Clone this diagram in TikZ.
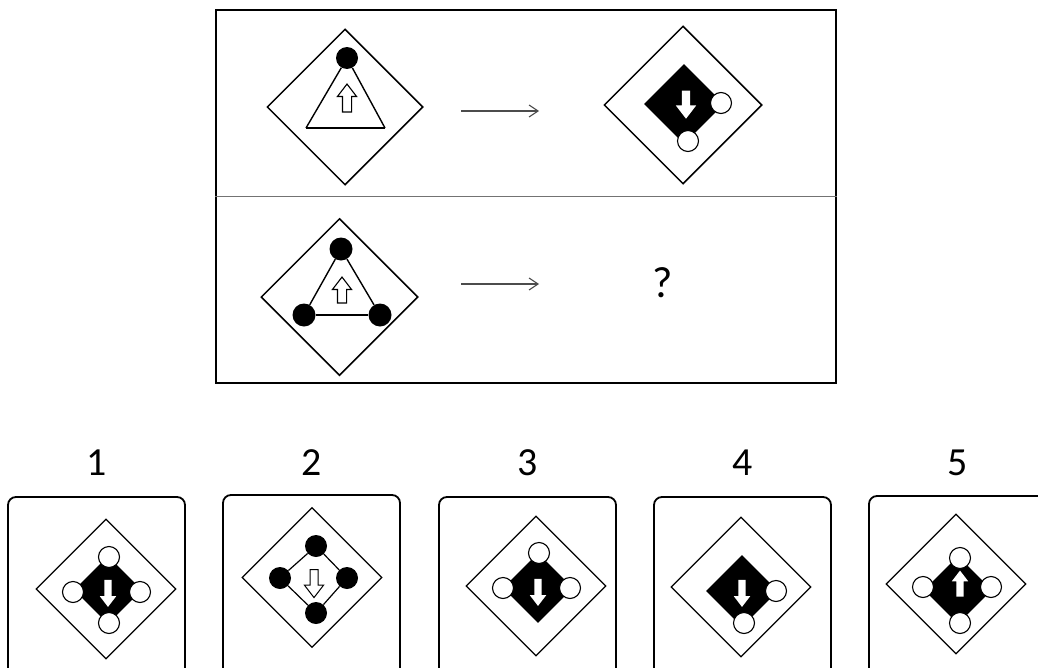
\documentclass[tikz,border=0pt]{standalone}
\usepackage{fontspec}
\setmainfont{Carlito}
\usetikzlibrary{shapes.geometric,shapes.arrows,arrows.meta}
\tikzset{
  bigdiam/.style={diamond,draw,inner sep=0pt,line width=1.5bp,minimum size=#1},
  blkdiam/.style={diamond,fill=black,inner sep=0pt,minimum size=#1},
  bdot/.style={circle,fill=black,inner sep=0pt,minimum size=23bp},
  wdot/.style={circle,draw,fill=white,inner sep=0pt,line width=1.1bp,minimum size=21bp},
  hollowarr/.style={single arrow,draw,fill=white,line width=1.1bp,inner xsep=0pt,inner ysep=4bp,
    single arrow head extend=5bp,single arrow tip angle=75,minimum height=28bp},
  whitearr/.style={single arrow,fill=white,inner xsep=0pt,inner ysep=3.5bp,
    single arrow head extend=4.5bp,single arrow tip angle=75,minimum height=28bp},
  optbox/.style={rectangle,draw,rounded corners=8bp,line width=1.8bp,minimum width=177bp,minimum height=200bp},
  cue/.style={-{Straight Barb[length=9bp,width=12bp]},draw=black!70,line width=1.1bp},
  numlab/.style={anchor=base,font=\fontsize{40}{42}\selectfont}
}
\begin{document}
\begin{tikzpicture}
\useasboundingbox (0bp,0bp) rectangle (1038bp,-668bp);
\clip (0bp,0bp) rectangle (1038bp,-668bp);

% question frame
\node (frame) at (526bp,-196.5bp)[rectangle,draw,line width=2bp,inner sep=0pt,minimum width=620bp,minimum height=373bp] {};
\draw [black!55,line width=1.2bp] (frame.west) to (frame.east);

% row 1, left figure
\node (qa) at (345bp,-107bp)[bigdiam=156bp] {};
\coordinate (qabl) at (306bp,-128bp);
\coordinate (qabr) at (385bp,-128bp);
\node (qatop) at (347bp,-58bp)[bdot,minimum size=22bp] {};
\draw [line width=1.4bp] (qabl) to (qabr);
\draw [line width=1.4bp] (qabr) to (qatop);
\draw [line width=1.4bp] (qabl) to (qatop);
\node (qaarr) at (347bp,-101bp)[hollowarr,rotate=90] {};

% row 1, right figure
\node (qb) at (683bp,-105bp)[bigdiam=158bp] {};
\node (qbblk) at (684bp,-104bp)[blkdiam=80bp] {};
\node (qbarr) at (686bp,-102bp)[whitearr,single arrow head extend=6bp,inner ysep=4bp,rotate=-90] {};
\node (qbright) at (721bp,-103bp)[wdot] {};
\node (qbbot) at (688bp,-141bp)[wdot] {};

% row 2, left figure
\node (qc) at (339.5bp,-297bp)[bigdiam=157bp] {};
\node (qctop) at (341bp,-249bp)[bdot] {};
\node (qcleft) at (304bp,-315bp)[bdot] {};
\node (qcright) at (380bp,-315bp)[bdot] {};
\draw [line width=1.4bp] (qctop) to (qcleft);
\draw [line width=1.4bp] (qcleft) to (qcright);
\draw [line width=1.4bp] (qcright) to (qctop);
\node (qcarr) at (342bp,-293bp)[hollowarr,minimum height=26bp,rotate=90] {};

% cue arrows and the unknown
\coordinate (cuea1) at (461bp,-111bp);
\coordinate (cuea2) at (539bp,-111bp);
\coordinate (cueb1) at (461bp,-284bp);
\coordinate (cueb2) at (539bp,-284bp);
\draw [cue] (cuea1) to (cuea2);
\draw [cue] (cueb1) to (cueb2);
\node (qmark) at (663bp,-297bp)[numlab,font=\fontsize{44}{46}\selectfont] {?};

% answer boxes
\node (box1) at (96.5bp,-597bp)[optbox] {};
\node (box2) at (311.5bp,-595bp)[optbox] {};
\node (box3) at (527.5bp,-597bp)[optbox] {};
\node (box4) at (742.5bp,-597bp)[optbox] {};
\node (box5) at (957.5bp,-596bp)[optbox] {};
\node (lab1) at (97bp,-475bp)[numlab] {1};
\node (lab2) at (312bp,-475bp)[numlab] {2};
\node (lab3) at (528bp,-475bp)[numlab] {3};
\node (lab4) at (743bp,-475bp)[numlab] {4};
\node (lab5) at (958bp,-475bp)[numlab] {5};

% option 1
\node (o1) at (106bp,-589bp)[bigdiam=140bp,line width=1.2bp] {};
\node (o1blk) at (108bp,-590bp)[blkdiam=68bp] {};
\node (o1arr) at (108bp,-591bp)[whitearr,minimum height=27bp,rotate=-90] {};
\node (o1n) at (109bp,-557bp)[wdot] {};
\node (o1s) at (109bp,-623bp)[wdot] {};
\node (o1w) at (73bp,-592bp)[wdot] {};
\node (o1e) at (140bp,-592bp)[wdot] {};

% option 2
\node (o2) at (312bp,-577.5bp)[bigdiam=140bp,line width=1.2bp] {};
\node (o2n) at (316bp,-546bp)[bdot,minimum size=22bp] {};
\node (o2e) at (347bp,-578bp)[bdot,minimum size=22bp] {};
\node (o2s) at (316bp,-613bp)[bdot,minimum size=22bp] {};
\node (o2w) at (280bp,-578bp)[bdot,minimum size=22bp] {};
\draw [line width=1.2bp] (o2n) to (o2e);
\draw [line width=1.2bp] (o2e) to (o2s);
\draw [line width=1.2bp] (o2s) to (o2w);
\draw [line width=1.2bp] (o2w) to (o2n);
\node (o2arr) at (314bp,-581bp)[hollowarr,line width=1bp,inner ysep=3.5bp,single arrow head extend=5.5bp,rotate=-90] {};

% option 3
\node (o3) at (536bp,-586bp)[bigdiam=140bp,line width=1.2bp] {};
\node (o3blk) at (538bp,-588bp)[blkdiam=70bp] {};
\node (o3arr) at (538bp,-590bp)[whitearr,minimum height=27bp,rotate=-90] {};
\node (o3n) at (539bp,-553bp)[wdot] {};
\node (o3w) at (503bp,-588bp)[wdot] {};
\node (o3e) at (570bp,-588bp)[wdot] {};

% option 4
\node (o4) at (741bp,-587bp)[bigdiam=140bp,line width=1.2bp] {};
\node (o4blk) at (742bp,-591bp)[blkdiam=72bp] {};
\node (o4arr) at (742bp,-591bp)[whitearr,minimum height=27bp,rotate=-90] {};
\node (o4e) at (776bp,-591bp)[wdot] {};
\node (o4s) at (744bp,-623bp)[wdot] {};

% option 5
\node (o5) at (956bp,-584bp)[bigdiam=140bp,line width=1.2bp] {};
\node (o5blk) at (958bp,-590bp)[blkdiam=68bp] {};
\node (o5arr) at (960bp,-586bp)[whitearr,minimum height=26bp,rotate=90] {};
\node (o5n) at (960bp,-558bp)[wdot] {};
\node (o5s) at (960bp,-623bp)[wdot] {};
\node (o5w) at (923bp,-587bp)[wdot] {};
\node (o5e) at (991bp,-587bp)[wdot] {};
\end{tikzpicture}
\end{document}
